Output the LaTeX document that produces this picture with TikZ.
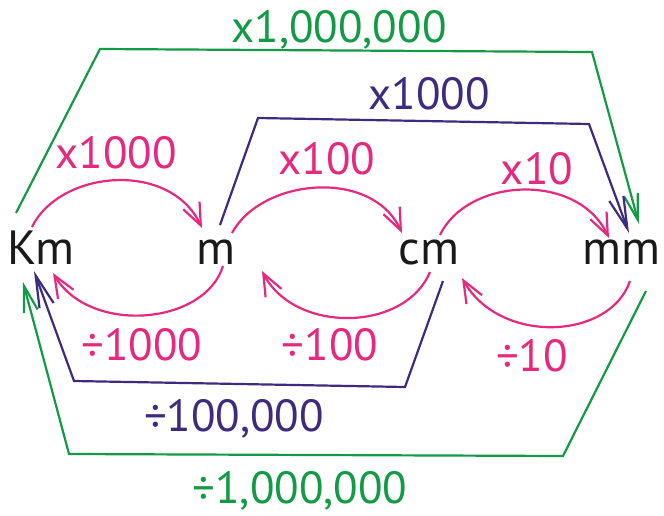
\documentclass[tikz,border=0pt]{standalone}
\usepackage{fontspec}
\setmainfont{PT Sans}
\usetikzlibrary{arrows.meta}
\definecolor{pk}{HTML}{E6297E}
\definecolor{pu}{HTML}{3E2A7E}
\definecolor{gr}{HTML}{139A45}
\definecolor{tx}{HTML}{1A1A1A}
\begin{document}
\begin{tikzpicture}[x=1pt,y=-1pt,
  unit/.style={font=\fontsize{48}{48}\selectfont, text=tx, anchor=base, inner sep=0pt},
  lab/.style={font=\fontsize{45}{45}\selectfont, anchor=base, inner sep=0pt},
  pinkarr/.style={draw=pk, line width=2.2pt, -{Straight Barb[length=22pt,width=18pt]}},
  purarr/.style={draw=pu, line width=2.2pt, -{Straight Barb[length=32pt,width=15pt]}},
  grnarr/.style={draw=gr, line width=2.2pt, -{Straight Barb[length=26pt,width=14pt]}},
  line join=miter]
\useasboundingbox (0,0) rectangle (664,516);
% units
\node[unit] (Km) at (41,264) {Km};
\node[unit] (m)  at (216,264) {m};
\node[unit] (cm) at (429,264) {cm};
\node[unit] (mm) at (621,264) {mm};
% endpoints
\coordinate (kmG) at (16,213);   \coordinate (mmG) at (639,224);
\coordinate (mP)  at (220,225);  \coordinate (mmP) at (629,233);
\coordinate (cmP) at (443,281);  \coordinate (kmP) at (34,271);
\coordinate (mmG2) at (646,291); \coordinate (kmG2) at (23,282);
% green top
\draw[grnarr] (kmG) -- (100,49) -- (592,52) -- (mmG);
% purple top
\draw[purarr] (mP) -- (258,118) -- (589,124) -- (mmP);
% pink forward arcs
\draw[pinkarr] (32,227) .. controls (60,170) and (170,160) .. (202,228);
\draw[pinkarr] (232,233) .. controls (262,178) and (372,168) .. (402,233);
\draw[pinkarr] (440,235) .. controls (468,177) and (578,172) .. (609,238);
% pink backward arcs
\draw[pinkarr] (223,266) .. controls (205,325) and (90,335) .. (53,273);
\draw[pinkarr] (430,272) .. controls (405,332) and (295,334) .. (262,271);
\draw[pinkarr] (630,281) .. controls (610,340) and (500,345) .. (462,278);
% purple bottom
\draw[purarr] (cmP) -- (405,387) -- (74,381) -- (kmP);
% green bottom
\draw[grnarr] (mmG2) -- (563,456) -- (69,454) -- (kmG2);
% labels
\node[lab, text=gr] (l1) at (339,43) {x1,000,000};
\node[lab, text=pu] (l2) at (429,110) {x1000};
\node[lab, text=pk] (l3) at (116,168) {x1000};
\node[lab, text=pk] (l4) at (327,175) {x100};
\node[lab, text=pk] (l5) at (537,184) {x10};
\node[lab, text=pk] (l6) at (142,360) {÷1000};
\node[lab, text=pk] (l7) at (330,360) {÷100};
\node[lab, text=pk] (l8) at (532,371) {÷10};
\node[lab, text=pu] (l9) at (234,431) {÷100,000};
\node[lab, text=gr] (l10) at (300,503) {÷1,000,000};
\end{tikzpicture}
\end{document}
